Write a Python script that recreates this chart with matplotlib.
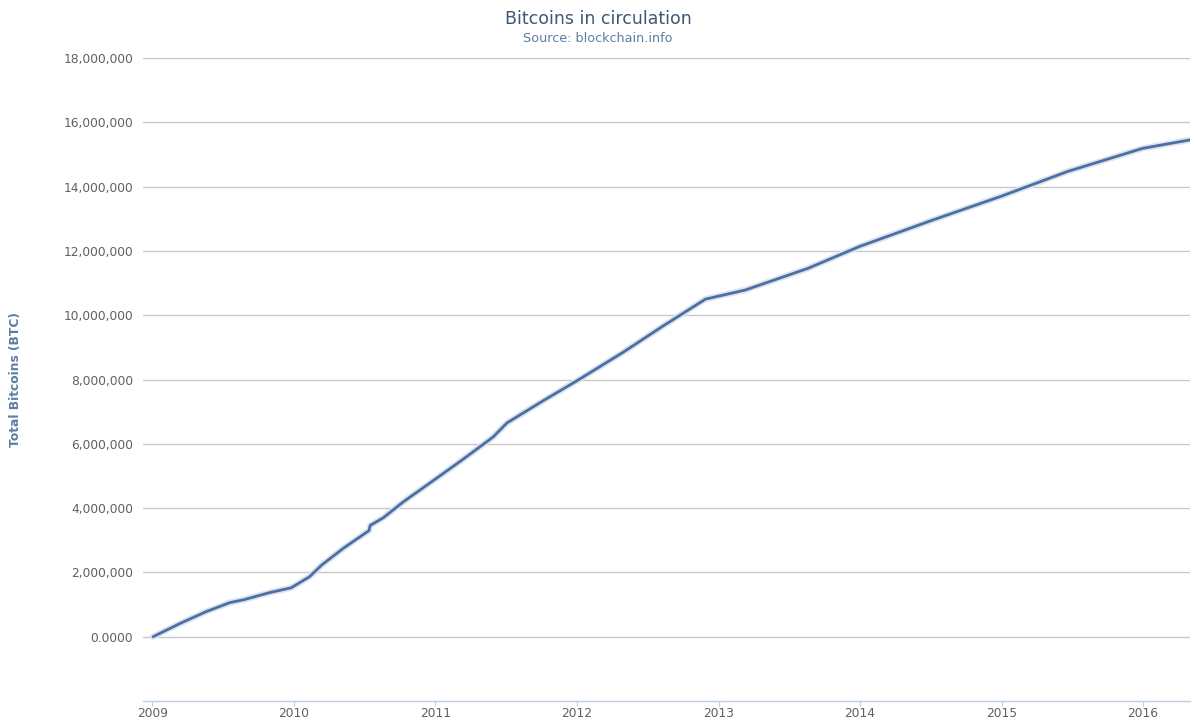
import matplotlib
matplotlib.use('Agg')
import matplotlib.pyplot as plt
from matplotlib.ticker import FuncFormatter
import numpy as np

# dates and total supply (BTC)
dates = ['2009-01-03', '2009-03-15', '2009-05-20', '2009-07-20', '2009-08-25', '2009-10-30',
         '2009-12-25', '2010-02-10', '2010-03-15', '2010-05-10', '2010-07-14', '2010-07-17',
         '2010-08-20', '2010-10-10', '2010-12-25', '2011-03-15', '2011-05-30', '2011-07-05',
         '2011-10-05', '2011-12-31', '2012-04-30', '2012-08-10', '2012-11-28', '2013-03-10',
         '2013-08-20', '2013-12-31', '2014-07-05', '2014-12-31', '2015-06-20', '2015-12-31',
         '2016-04-30']
btc = [0, 420000, 780000, 1060000, 1150000, 1370000,
       1520000, 1860000, 2240000, 2760000, 3300000, 3460000,
       3700000, 4190000, 4840000, 5530000, 6210000, 6650000,
       7330000, 7950000, 8850000, 9660000, 10500000, 10780000,
       11460000, 12140000, 12950000, 13700000, 14470000, 15190000,
       15450000]

years = [str(y) for y in range(2009, 2017)]
yticks = list(range(0, 18000001, 2000000))

x = np.array(dates, dtype='datetime64[D]')

fig = plt.figure(figsize=(11.96, 7.21), dpi=100)
ax = fig.add_axes([143 / 1196, 20 / 721, 1047 / 1196, 643 / 721])

# faint shadow under the line, then the line itself
ax.plot(x, btc, color='#dde3ec', linewidth=4.5, solid_capstyle='round', zorder=2)
ax.plot(x, btc, color='#4a6fa5', linewidth=2.0, solid_capstyle='round', zorder=3)

ax.set_xlim(np.datetime64('2008-12-08'), np.datetime64('2016-05-01'))
ax.set_ylim(-2000000, 18000000)

ax.set_yticks(yticks)
ax.yaxis.set_major_formatter(FuncFormatter(lambda v, p: '0.0000' if v == 0 else f'{int(v):,}'))
ax.set_xticks([np.datetime64(y + '-01-01') for y in years])
ax.set_xticklabels(years)

ax.grid(axis='y', color='#c8c8c8', linewidth=1)
ax.set_axisbelow(True)
for s in ['top', 'right', 'left']:
    ax.spines[s].set_visible(False)
ax.spines['bottom'].set_color('#c0d0e0')
ax.spines['bottom'].set_linewidth(1)

ax.tick_params(axis='y', length=0, pad=7, labelsize=8.8, labelcolor='#606060')
ax.tick_params(axis='x', length=3.5, color='#c0d0e0', pad=1, labelsize=8.8, labelcolor='#606060')

fig.text(16 / 1196, 1 - 380 / 721, 'Total Bitcoins (BTC)', rotation=90, ha='center', va='center',
         color='#5d7ca3', fontsize=8.8, fontweight='bold')

fig.text(0.5, 1 - 19 / 721, 'Bitcoins in circulation', ha='center', va='center',
         fontsize=12.5, color='#3e5774')
fig.text(0.5, 1 - 38 / 721, 'Source: blockchain.info', ha='center', va='center',
         fontsize=9.2, color='#5d7ca3')

fig.savefig('out.png', dpi=100)
